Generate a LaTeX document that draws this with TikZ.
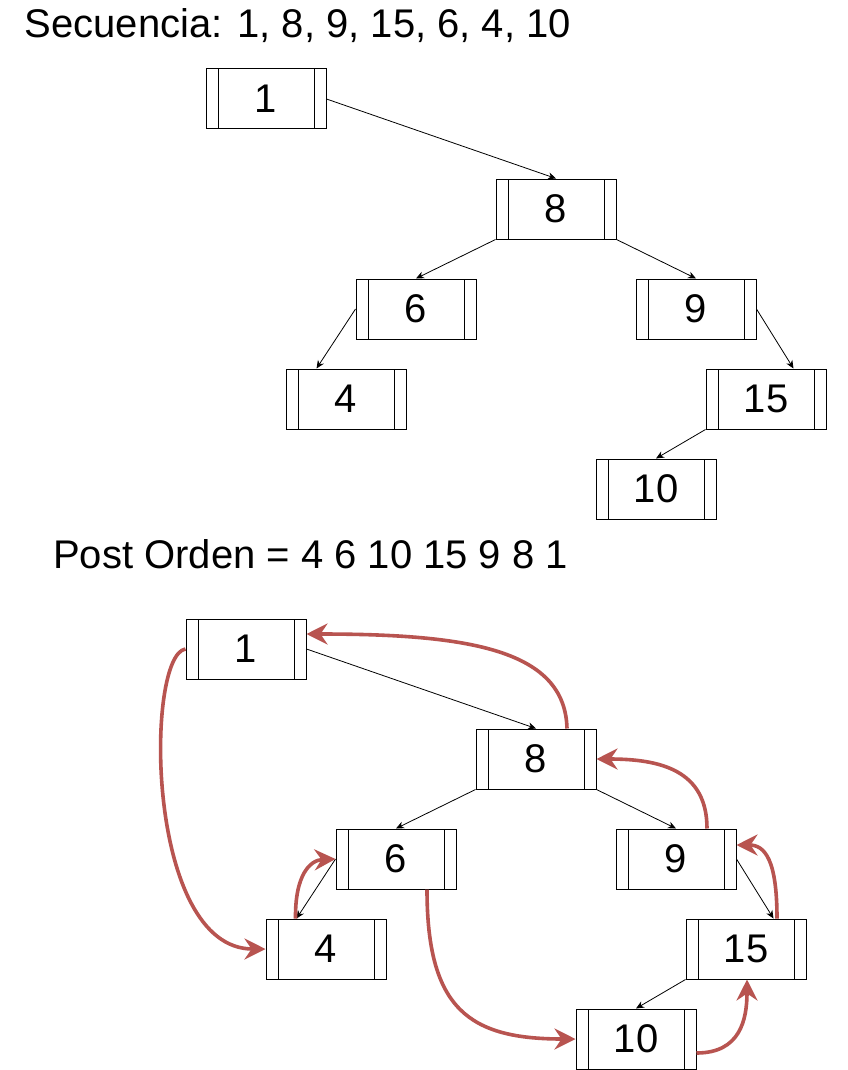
\documentclass[tikz,border=0pt]{standalone}
\usepackage{fontspec}
\setmainfont{Liberation Sans}
\usetikzlibrary{arrows.meta,calc}
\definecolor{redline}{HTML}{B85450}
\begin{document}
\begin{tikzpicture}[x=1pt,y=-1pt,
  box/.style={draw=black, line width=1pt, minimum width=120pt, minimum height=60pt,
    inner sep=0pt, font=\fontsize{40}{44}\selectfont,
    path picture={
      \draw[line width=1pt] ([xshift=12pt]path picture bounding box.north west) -- ([xshift=12pt]path picture bounding box.south west);
      \draw[line width=1pt] ([xshift=-12pt]path picture bounding box.north east) -- ([xshift=-12pt]path picture bounding box.south east);
    }},
  edge/.style={draw=black, line width=0.8pt, -{Stealth[length=8pt,width=7pt,inset=2.5pt]}},
  walk/.style={draw=redline, line width=3.6pt, -{Stealth[length=21pt,width=21pt,inset=7pt]}},
  title/.style={anchor=base west, inner sep=0pt, font=\fontsize{40}{44}\selectfont}]
\useasboundingbox (0,0) rectangle (847,1070);
\fill[white] (0,0) rectangle (847,1070);

% titles
\node[title] (t1) at (24.5,38) {Secuencia: 1, 8, 9, 15, 6, 4, 10};
\node[title] (t2) at (53,568) {Post Orden = 4 6 10 15 9 8 1};

% top tree
\node[box] (a1) at (266,99) {1};
\node[box] (a8) at (556,209) {8};
\node[box] (a6) at (416,309) {6};
\node[box] (a9) at (696,309) {9};
\node[box] (a4) at (346,399) {4};
\node[box] (a15) at (766,399) {15};
\node[box] (a10) at (656,489) {10};

\draw[edge] (a1.east) -- (a8.north);
\draw[edge] (a8.south west) -- (a6.north);
\draw[edge] (a8.south east) -- (a9.north);
\draw[edge] (a6.west) -- ($(a4.north west)+(31,0)$);
\draw[edge] (a9.east) -- ($(a15.north west)+(88,0)$);
\draw[edge] (a15.south west) -- (a10.north);

% bottom tree
\node[box] (b1) at (246,649) {1};
\node[box] (b8) at (536,759) {8};
\node[box] (b6) at (396,859) {6};
\node[box] (b9) at (676,859) {9};
\node[box] (b4) at (326,949) {4};
\node[box] (b15) at (746,949) {15};
\node[box] (b10) at (636,1039) {10};

\draw[edge] (b1.east) -- (b8.north);
\draw[edge] (b8.south west) -- (b6.north);
\draw[edge] (b8.south east) -- (b9.north);
\draw[edge] (b6.west) -- ($(b4.north west)+(31,0)$);
\draw[edge] (b9.east) -- ($(b15.north west)+(88,0)$);
\draw[edge] (b15.south west) -- (b10.north);

% post-order walk
\draw[walk] (b1.west) .. controls (145,655) and (145,949) .. (b4.west);
\draw[walk] ($(b4.north west)+(30,0)$) .. controls (295,875) and (310,860) .. (b6.west);
\draw[walk] ($(b6.south)+(31,0)$) .. controls (427,1010) and (470,1039) .. (b10.west);
\draw[walk] ($(b10.east)+(0,14)$) .. controls (740,1053) and (747,1020) .. ($(b15.south)+(1,0)$);
\draw[walk] ($(b15.north)+(31,0)$) .. controls (777,860) and (765,845) .. ($(b9.east)+(0,-14)$);
\draw[walk] ($(b9.north)+(31,0)$) .. controls (707,770) and (660,759) .. (b8.east);
\draw[walk] ($(b8.north)+(31,0)$) .. controls (565,650) and (470,634) .. ($(b1.east)+(0,-15)$);
\end{tikzpicture}
\end{document}
